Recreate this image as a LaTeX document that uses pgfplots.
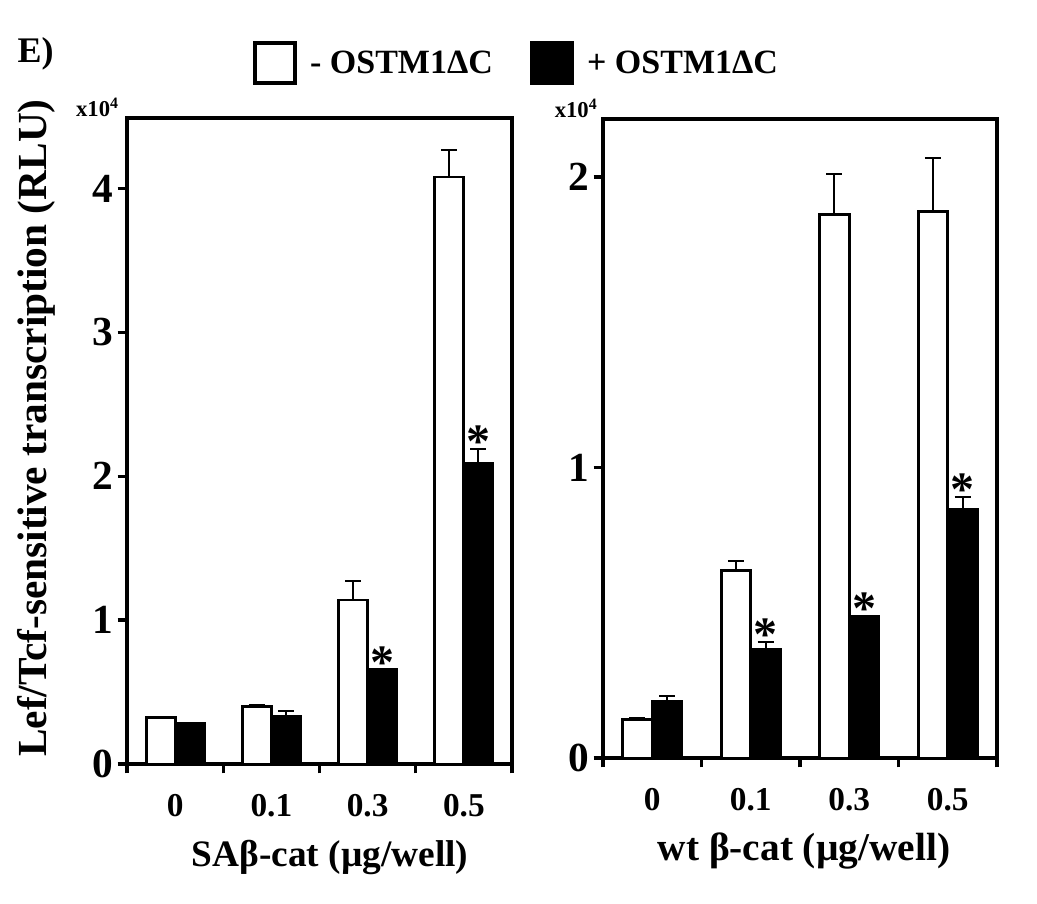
\documentclass[border=0pt]{standalone}
\usepackage{fontspec}
\setmainfont{Liberation Serif}
\usepackage{pgfplots}
\pgfplotsset{compat=1.18}

% x: category, xs: centre of the bar (category -/+ half a bar)
\pgfplotstableread{
x xs y e
0 -0.15 0.32 0.008
1 0.85 0.40 0.010
2 1.85 1.14 0.13
3 2.85 4.08 0.19
}\leftwhite
\pgfplotstableread{
x xs y e
0 0.15 0.28 0.005
1 1.15 0.33 0.04
2 2.15 0.655 0.005
3 3.15 2.09 0.10
}\leftblack
\pgfplotstableread{
x y
2.15 0.66
3.15 2.19
}\leftstar
\pgfplotstableread{
x xs y e
0 -0.15 0.133 0.005
1 0.85 0.647 0.031
2 1.85 1.87 0.14
3 2.85 1.88 0.185
}\rightwhite
\pgfplotstableread{
x xs y e
0 0.15 0.194 0.02
1 1.15 0.372 0.028
2 2.15 0.486 0.004
3 3.15 0.857 0.043
}\rightblack
\pgfplotstableread{
x y
1.15 0.40
2.15 0.49
3.15 0.90
}\rightstar

\pgfplotsset{
  panel/.style={
    scale only axis, anchor=south west, clip=false,
    axis line style={line width=3pt},
    every tick/.style={line width=2.5pt, black},
    tick align=outside, major tick length=7pt,
    xtick pos=bottom, ytick pos=left,
    xmin=-0.5, xmax=3.5, ymin=0,
    xtick={-0.5,0.5,1.5,2.5,3.5},
    x tick label as interval,
    xticklabels={0,0.1,0.3,0.5},
    /pgf/number format/assume math mode=true,
    xticklabel style={font=\fontsize{25}{25}\selectfont\bfseries, yshift=-12pt},
    yticklabel style={font=\fontsize{31}{31}\selectfont\bfseries},
    xlabel style={font=\fontsize{28}{28}\selectfont\bfseries, at={(axis description cs:0.5,0)}, anchor=center, yshift=-70pt},
  },
  errs/.style={draw=none, no markers, forget plot,
    error bars/y dir=plus, error bars/y explicit,
    error bars/error mark=|,
    error bars/error bar style={line width=1.5pt, draw=black},
    error bars/error mark options={line width=1.5pt, mark size=6pt, draw=black}},
  star/.style={draw=none, no markers, forget plot, point meta=y, nodes near coords={*},
    nodes near coords style={font=\fontsize{36}{36}\selectfont\bfseries, anchor=south, inner sep=0pt, yshift=-7pt}},
}

\begin{document}
\begin{tikzpicture}
\path[use as bounding box] (0,0) rectangle (777.75pt,677.25pt);
\node[anchor=base west, font=\fontsize{27}{27}\selectfont\bfseries, inner sep=0pt] at (13pt,630pt) {E)};

\begin{axis}[panel, at={(95.25pt,104.25pt)}, width=288.75pt, height=484.5pt,
  ymax=4.49, ytick={0,1,2,3,4},
  xlabel={SAβ-cat (µg/well)},
  xlabel style={xshift=8pt},
  ylabel={Lef/Tcf-sensitive transcription (RLU)},
  ylabel style={font=\fontsize{31}{31}\selectfont\bfseries, at={(axis description cs:-0.236,0.52)}, anchor=center},
  legend columns=2,
  legend style={at={(1.013,1.085)}, anchor=center, draw=none, fill=none,
    font=\fontsize{25.5}{25.5}\selectfont\bfseries,
    /tikz/every even column/.append style={column sep=26pt}},
]
\addplot[ybar, bar width=21.7pt, bar shift=-10.85pt, fill=white, draw=black, line width=2.2pt,
  legend image code/.code={\draw[line width=3pt, fill=white] (0pt,-15pt) rectangle (30pt,15pt); \path (38pt,0pt);}]
  table[x=x, y=y] {\leftwhite};
\addlegendentry{- OSTM1ΔC}
\addplot[ybar, bar width=21.7pt, bar shift=10.85pt, fill=black, draw=black, line width=2.2pt,
  legend image code/.code={\draw[line width=3pt, fill=black] (0pt,-15pt) rectangle (30pt,15pt); \path (38pt,0pt);}]
  table[x=x, y=y] {\leftblack};
\addlegendentry{+ OSTM1ΔC}
\addplot[errs] table[x=xs, y=y, y error=e] {\leftwhite};
\addplot[errs] table[x=xs, y=y, y error=e] {\leftblack};
\addplot[star] table[x=x, y=y] {\leftstar};
\node[anchor=base east, font=\fontsize{17}{17}\selectfont\bfseries, inner sep=0pt] at (rel axis cs:0,1) [xshift=-6pt, yshift=1pt] {x10\textsuperscript{4}};
\end{axis}

\begin{axis}[panel, at={(452.25pt,108.75pt)}, width=295.5pt, height=479.25pt,
  ymax=2.2, ytick={0,1,2},
  xlabel={wt β-cat (µg/well)},
  xlabel style={xshift=3pt, font=\fontsize{29.5}{29.5}\selectfont\bfseries},
]
\addplot[ybar, bar width=22.2pt, bar shift=-11.1pt, fill=white, draw=black, line width=2.2pt]
  table[x=x, y=y] {\rightwhite};
\addplot[ybar, bar width=22.2pt, bar shift=11.1pt, fill=black, draw=black, line width=2.2pt]
  table[x=x, y=y] {\rightblack};
\addplot[errs] table[x=xs, y=y, y error=e] {\rightwhite};
\addplot[errs] table[x=xs, y=y, y error=e] {\rightblack};
\addplot[star] table[x=x, y=y] {\rightstar};
\node[anchor=base east, font=\fontsize{17}{17}\selectfont\bfseries, inner sep=0pt] at (rel axis cs:0,1) [xshift=-4pt, yshift=1pt] {x10\textsuperscript{4}};
\end{axis}
\end{tikzpicture}
\end{document}
